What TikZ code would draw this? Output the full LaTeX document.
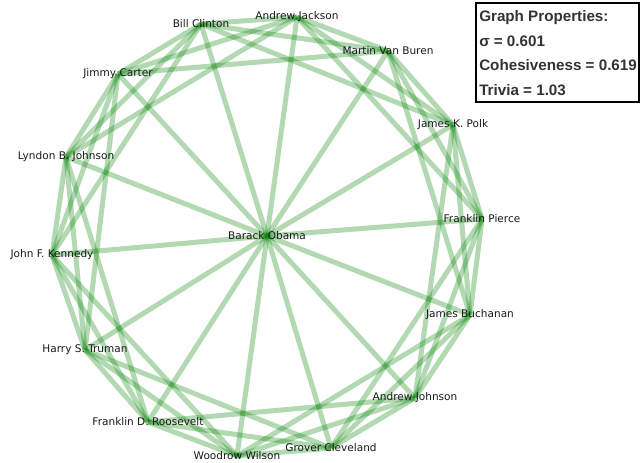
\documentclass[tikz,border=0pt]{standalone}
\usepackage{fontspec}
\setmainfont{DejaVu Sans}
\newfontfamily\propfont{Liberation Sans}
\usetikzlibrary{backgrounds}
\definecolor{edgegreen}{RGB}{0,128,0}
\definecolor{proptext}{RGB}{51,51,51}
\begin{document}
\begin{tikzpicture}[x=0.75pt,y=-0.75pt,
  lbl/.style={font=\fontsize{7.9}{9}\selectfont, inner sep=0pt, text=black!90},
  edge/.style={draw=edgegreen, draw opacity=0.3, line width=3.75pt},
  prop/.style={font=\propfont\bfseries\fontsize{11.4}{13}\selectfont, anchor=base west, inner sep=0pt, text=proptext},
  propbox/.style={draw=black, line width=1.5pt}]
\useasboundingbox (0,0) rectangle (640,463);
% ring nodes
\node[lbl] (n0)  at (297,17)  {Andrew Jackson};
\node[lbl] (n1)  at (388,51)  {Martin Van Buren};
\node[lbl] (n2)  at (453,125) {James K. Polk};
\node[lbl] (n3)  at (482,219) {Franklin Pierce};
\node[lbl] (n4)  at (470,315) {James Buchanan};
\node[lbl] (n5)  at (415,398) {Andrew Johnson};
\node[lbl] (n6)  at (331,448) {Grover Cleveland};
\node[lbl] (n7)  at (237,456) {Woodrow Wilson};
\node[lbl] (n8)  at (148,422) {Franklin D. Roosevelt};
\node[lbl] (n9)  at (85,350)  {Harry S. Truman};
\node[lbl] (n10) at (52,255)  {John F. Kennedy};
\node[lbl] (n11) at (66,157)  {Lyndon B. Johnson};
\node[lbl] (n12) at (118,74)  {Jimmy Carter};
\node[lbl] (n13) at (201,24)  {Bill Clinton};
\node[lbl] (ob)  at (267,236) {Barack Obama};
\begin{pgfonlayer}{background}
\foreach \i in {0,...,13}{
  \draw[edge] (ob.center) -- (n\i.center);
  \foreach \d in {1,2,3}{
    \pgfmathtruncatemacro\j{mod(\i+\d,14)}
    \draw[edge] (n\i.center) -- (n\j.center);
  }
}
\end{pgfonlayer}
% properties box
\draw[propbox] (476,3) rectangle (639,102);
\node[prop] (p1) at (479,21.5) {Graph Properties:};
\node[prop] (p2) at (479,46.5) {σ = 0.601};
\node[prop] (p3) at (479,71) {Cohesiveness = 0.619};
\node[prop] (p4) at (479,96) {Trivia = 1.03};
\end{tikzpicture}
\end{document}
